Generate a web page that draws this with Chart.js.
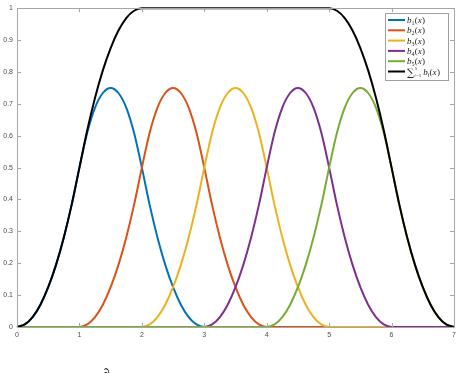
<!DOCTYPE html>
<html><head><meta charset="utf-8">
<script src="https://cdn.jsdelivr.net/npm/chart.js@4/dist/chart.umd.min.js"></script>
<style>
html,body{margin:0;padding:0;background:#fff;overflow:hidden;width:461px;height:373px;}
#wrap{position:relative;width:461px;height:373px;}
#frag{position:absolute;left:102px;top:366px;font:italic 15px "Liberation Serif",serif;color:#000;}
</style></head>
<body><div id="wrap"><canvas id="c" width="461" height="373"></canvas><div id="frag">∂</div></div>
<script>
// x positions (step 0.125 from 0 to 7)
const xs = [0,0.125,0.25,0.375,0.5,0.625,0.75,0.875,1,1.125,1.25,1.375,1.5,1.625,1.75,1.875,2,2.125,2.25,2.375,2.5,2.625,2.75,2.875,3,3.125,3.25,3.375,3.5,3.625,3.75,3.875,4,4.125,4.25,4.375,4.5,4.625,4.75,4.875,5,5.125,5.25,5.375,5.5,5.625,5.75,5.875,6,6.125,6.25,6.375,6.5,6.625,6.75,6.875,7];
const b1 = [0,0.008,0.031,0.070,0.125,0.195,0.281,0.383,0.5,0.609,0.688,0.734,0.75,0.734,0.688,0.609,0.5,0.383,0.281,0.195,0.125,0.070,0.031,0.008,0,0,0,0,0,0,0,0,0,0,0,0,0,0,0,0,0,0,0,0,0,0,0,0,0,0,0,0,0,0,0,0,0];
const b2 = [0,0,0,0,0,0,0,0,0,0.008,0.031,0.070,0.125,0.195,0.281,0.383,0.5,0.609,0.688,0.734,0.75,0.734,0.688,0.609,0.5,0.383,0.281,0.195,0.125,0.070,0.031,0.008,0,0,0,0,0,0,0,0,0,0,0,0,0,0,0,0,0,0,0,0,0,0,0,0,0];
const b3 = [0,0,0,0,0,0,0,0,0,0,0,0,0,0,0,0,0,0.008,0.031,0.070,0.125,0.195,0.281,0.383,0.5,0.609,0.688,0.734,0.75,0.734,0.688,0.609,0.5,0.383,0.281,0.195,0.125,0.070,0.031,0.008,0,0,0,0,0,0,0,0,0,0,0,0,0,0,0,0,0];
const b4 = [0,0,0,0,0,0,0,0,0,0,0,0,0,0,0,0,0,0,0,0,0,0,0,0,0,0.008,0.031,0.070,0.125,0.195,0.281,0.383,0.5,0.609,0.688,0.734,0.75,0.734,0.688,0.609,0.5,0.383,0.281,0.195,0.125,0.070,0.031,0.008,0,0,0,0,0,0,0,0,0];
const b5 = [0,0,0,0,0,0,0,0,0,0,0,0,0,0,0,0,0,0,0,0,0,0,0,0,0,0,0,0,0,0,0,0,0,0.008,0.031,0.070,0.125,0.195,0.281,0.383,0.5,0.609,0.688,0.734,0.75,0.734,0.688,0.609,0.5,0.383,0.281,0.195,0.125,0.070,0.031,0.008,0];
const sumB = [0,0.008,0.031,0.070,0.125,0.195,0.281,0.383,0.5,0.617,0.719,0.805,0.875,0.930,0.969,0.992,1,1,1,1,1,1,1,1,1,1,1,1,1,1,1,1,1,1,1,1,1,1,1,1,1,0.992,0.969,0.930,0.875,0.805,0.719,0.617,0.5,0.383,0.281,0.195,0.125,0.070,0.031,0.008,0];
const xTicks = [0,1,2,3,4,5,6,7];
const yTicks = [0,0.1,0.2,0.3,0.4,0.5,0.6,0.7,0.8,0.9,1];
const seriesNames = ['1','2','3','4','5'];
const colors = ['#0072BD','#D95319','#EDB120','#7E2F8E','#77AC30','#000000'];

const allSeries = [b1,b2,b3,b4,b5,sumB];
const datasets = allSeries.map((arr,i)=>({
  data: arr.map((v,k)=>({x:xs[k], y:v})),
  borderColor: colors[i],
  borderWidth: 2,
  pointRadius: 0,
  fill: false,
  cubicInterpolationMode: 'monotone',
  order: i===5 ? 0 : 5 - i + 1,
  clip: 3
}));

const AXIS = '#a6a6a6';
const LABEL = '#4d4d4d';

const boxPlugin = {
  id:'box',
  afterDatasetsDraw(chart){
    const ctx = chart.ctx, a = chart.chartArea;
    const xs_ = chart.scales.x, ys_ = chart.scales.y;
    ctx.save();
    ctx.strokeStyle = AXIS; ctx.lineWidth = 1;
    ctx.beginPath();
    ctx.rect(Math.round(a.left)+0.5, Math.round(a.top)+0.5, Math.round(a.right-a.left), Math.round(a.bottom-a.top));
    ctx.stroke();
    const L = 4;
    ctx.beginPath();
    xTicks.forEach(t=>{
      const px = Math.round(xs_.getPixelForValue(t))+0.5;
      ctx.moveTo(px, a.bottom); ctx.lineTo(px, a.bottom-L);
      ctx.moveTo(px, a.top); ctx.lineTo(px, a.top+L);
    });
    yTicks.forEach(t=>{
      const py = Math.round(ys_.getPixelForValue(t))+0.5;
      ctx.moveTo(a.left, py); ctx.lineTo(a.left+L, py);
      ctx.moveTo(a.right, py); ctx.lineTo(a.right-L, py);
    });
    ctx.stroke();

    // legend
    const bx = 385.5, by = 13.5, bw = 63, bh = 67;
    ctx.fillStyle = '#fff';
    ctx.fillRect(bx, by, bw, bh);
    ctx.strokeStyle = '#a0a0a0';
    ctx.strokeRect(bx, by, bw, bh);
    const rows = [20, 30.3, 40.6, 50.9, 61.2, 71.5];
    rows.forEach((ry,i)=>{
      ctx.strokeStyle = colors[i]; ctx.lineWidth = 2;
      ctx.beginPath(); ctx.moveTo(388, ry); ctx.lineTo(405, ry); ctx.stroke();
      ctx.fillStyle = '#222';
      ctx.textBaseline = 'alphabetic';
      ctx.textAlign = 'left';
      let x = 407;
      const base = ry + 3;
      if (i < 5) {
        x = drawB(ctx, x, base, seriesNames[i]);
      } else {
        ctx.font = '10px "DejaVu Serif",serif';
        ctx.fillText('\u2211', x, base+1.5);
        const w = ctx.measureText('\u2211').width;
        ctx.font = '5px "Liberation Serif",serif';
        ctx.fillText('5', x+w+0.5, base-5);
        ctx.font = 'italic 5px "Liberation Serif",serif';
        ctx.fillText('i', x+w+0.2, base+2.5);
        ctx.font = '5px "Liberation Serif",serif';
        ctx.fillText('=1', x+w+1.8, base+2.5);
        x = x + w + 9;
        drawB(ctx, x, base, 'i', true);
      }
    });
    ctx.restore();
  }
};
function drawB(ctx, x, base, sub, italicSub){
  ctx.font = 'italic 9px "Liberation Serif",serif';
  ctx.fillText('b', x, base); x += ctx.measureText('b').width;
  ctx.font = (italicSub?'italic ':'') + '6px "Liberation Serif",serif';
  ctx.fillText(sub, x, base+2); x += ctx.measureText(sub).width + 0.3;
  ctx.font = '9px "Liberation Serif",serif';
  ctx.fillText('(', x, base); x += ctx.measureText('(').width;
  ctx.font = 'italic 9px "Liberation Serif",serif';
  ctx.fillText('x', x, base); x += ctx.measureText('x').width + 0.3;
  ctx.font = '9px "Liberation Serif",serif';
  ctx.fillText(')', x, base); x += ctx.measureText(')').width;
  return x;
}

new Chart(document.getElementById('c'), {
  type:'line',
  data:{ datasets },
  options:{
    responsive:false, animation:false, devicePixelRatio:1,
    layout:{ padding:{ left:0, top:8, right:7, bottom:0 } },
    plugins:{ legend:{display:false}, tooltip:{enabled:false} },
    scales:{
      x:{ type:'linear', min:0, max:7,
        afterBuildTicks(s){ s.ticks = xTicks.map(v=>({value:v})); },
        afterFit(s){ s.height = 46; },
        grid:{ display:false, drawTicks:false },
        border:{ display:false },
        ticks:{ font:{ family:'"Liberation Sans",Arial,sans-serif', size:7 }, color:LABEL, padding:4, maxRotation:0,
          callback:(v)=>String(v) } },
      y:{ type:'linear', min:0, max:1,
        afterBuildTicks(s){ s.ticks = yTicks.map(v=>({value:v})); },
        afterFit(s){ s.width = 17; },
        grid:{ display:false, drawTicks:false },
        border:{ display:false },
        ticks:{ font:{ family:'"Liberation Sans",Arial,sans-serif', size:7 }, color:LABEL, padding:4,
          callback:(v)=> (v===0?'0':(Math.abs(v-1)<1e-9?'1':v.toFixed(1))) } }
    }
  },
  plugins:[boxPlugin]
});
</script>
</body></html>
